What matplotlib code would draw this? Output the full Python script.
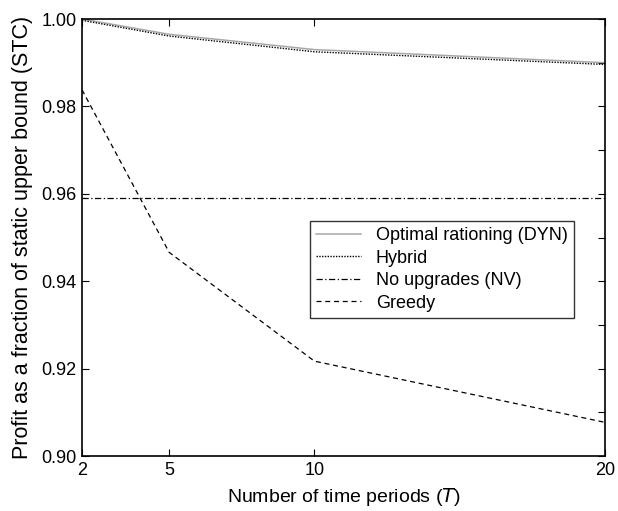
import matplotlib
matplotlib.use("Agg")
import matplotlib.pyplot as plt
from matplotlib.ticker import MultipleLocator

plt.rcParams['font.family'] = ['Liberation Sans', 'DejaVu Sans']

T = [2, 5, 10, 20]
dyn = [1.0000, 0.9965, 0.9930, 0.9900]
hybrid = [0.9997, 0.9961, 0.9925, 0.9896]
nv = [0.9590, 0.9590, 0.9590, 0.9590]
greedy = [0.9838, 0.9466, 0.9217, 0.9077]

xticks = [2, 5, 10, 20]
yticks = [0.90, 0.92, 0.94, 0.96, 0.98, 1.00]

W, H = 618, 511
L, R, TOP, BOT = 82, 605, 19, 456
fig = plt.figure(figsize=(W/100, H/100), dpi=100)
ax = fig.add_axes([L/W, 1 - BOT/H, (R-L)/W, (BOT-TOP)/H])

ax.plot(T, dyn, color='#a8a8a8', lw=1.1, ls='-', label='Optimal rationing (DYN)')
ax.plot(T, hybrid, color='black', lw=1.0, ls=(0, (1, 1)), label='Hybrid')
ax.plot(T, nv, color='black', lw=0.9, ls=(0, (5, 2, 1, 2)), label='No upgrades (NV)')
ax.plot(T, greedy, color='black', lw=0.9, ls=(0, (4, 3)), label='Greedy')

ax.set_xlim(2, 20)
ax.set_ylim(0.90, 1.00)
ax.set_xticks(xticks)
ax.set_xticklabels([str(t) for t in xticks])
ax.set_yticks(yticks)
ax.set_yticklabels([f"{v:.2f}" for v in yticks])
ax.yaxis.set_minor_locator(MultipleLocator(0.01))

ax.tick_params(axis='both', which='major', direction='in', top=True, right=True,
               length=5, width=0.8, labelsize=13, pad=4)
ax.tick_params(axis='y', which='minor', direction='in', left=False, right=True,
               length=5, width=0.8)
for s in ax.spines.values():
    s.set_linewidth(1.2)

ax.set_xlabel('Number of time periods ($T$)', fontsize=14, labelpad=5)
ax.set_ylabel('Profit as a fraction of static upper bound (STC)', fontsize=15.5, labelpad=6)

lx = (310 - L) / (R - L)
ly = (BOT - 221) / (BOT - TOP)
leg = ax.legend(loc='upper left', bbox_to_anchor=(lx, ly), fontsize=13,
                frameon=True, fancybox=False, framealpha=1, edgecolor='#333333',
                handlelength=2.5, borderpad=0.35, labelspacing=0.3, handletextpad=0.8,
                borderaxespad=0)
leg.get_frame().set_linewidth(1.0)

fig.savefig('out.png', dpi=100)
